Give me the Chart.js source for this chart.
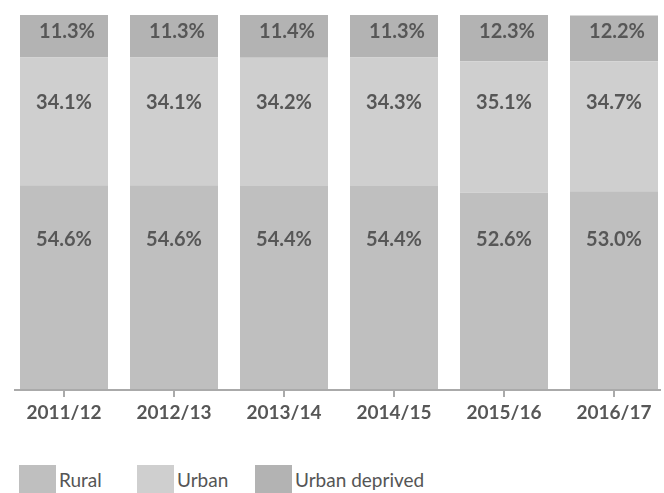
<!DOCTYPE html>
<html>
<head>
<meta charset="utf-8">
<script src="https://cdn.jsdelivr.net/npm/chart.js@4/dist/chart.umd.min.js"></script>
<style>
  html, body { margin: 0; padding: 0; background: #fff; overflow: hidden; width: 664px; height: 493px; }
  #wrap { position: absolute; left: 0; top: 0; width: 678px; height: 440px; }
  #legend { position: absolute; left: 19px; top: 465px; display: flex; font-family: Lato, "Open Sans", sans-serif; font-size: 19px; color: #555; white-space: nowrap; }
  .item { width: 118px; display: flex; align-items: center; height: 28px; flex: none; }
  .item:last-child { width: auto; }
  .box { width: 37px; height: 28px; margin-right: 3px; flex: none; }
</style>
</head>
<body>
<div id="wrap"><canvas id="c"></canvas></div>
<div id="legend"></div>
<script>
const categories = ["2011/12", "2012/13", "2013/14", "2014/15", "2015/16", "2016/17"];
const seriesNames = ["Rural", "Urban", "Urban deprived"];
const rural = [54.6, 54.6, 54.4, 54.4, 52.6, 53.0];
const urban = [34.1, 34.1, 34.2, 34.3, 35.1, 34.7];
const urbanDeprived = [11.3, 11.3, 11.4, 11.3, 12.3, 12.2];
const colors = ["#bfbfbf", "#cfcfcf", "#b3b3b3"];
const labelLevels = [40.1, 76.7, 95.5];
const labelShift = [0, 0, 3];

const valueLabels = {
  id: "valueLabels",
  afterDatasetsDraw(chart) {
    const ctx = chart.ctx;
    const y = chart.scales.y;
    ctx.save();
    ctx.font = "bold 20px Lato, 'Open Sans', sans-serif";
    ctx.fillStyle = "#575757";
    ctx.textAlign = "center";
    ctx.textBaseline = "middle";
    chart.data.datasets.forEach((ds, i) => {
      const meta = chart.getDatasetMeta(i);
      meta.data.forEach((bar, j) => {
        ctx.fillText(ds.data[j].toFixed(1) + "%", bar.x + labelShift[i], y.getPixelForValue(labelLevels[i]));
      });
    });
    ctx.restore();
  }
};

const axisLine = {
  id: "axisLine",
  afterDraw(chart) {
    const a = chart.chartArea;
    const ctx = chart.ctx;
    ctx.save();
    ctx.strokeStyle = "#aaaaaa";
    ctx.lineWidth = 2;
    ctx.beginPath();
    ctx.moveTo(a.left + 5, a.bottom);
    ctx.lineTo(a.right - 8, a.bottom);
    ctx.stroke();
    ctx.restore();
  }
};

const datasets = [rural, urban, urbanDeprived].map((d, i) => ({
  label: seriesNames[i],
  data: d,
  backgroundColor: colors[i],
  borderWidth: 0,
  barPercentage: 0.8,
  categoryPercentage: 1.0
}));

new Chart(document.getElementById("c"), {
  type: "bar",
  data: { labels: categories, datasets },
  options: {
    responsive: true,
    maintainAspectRatio: false,
    animation: false,
    layout: { padding: { left: 9, right: 9, top: 15, bottom: 0 } },
    plugins: { legend: { display: false }, tooltip: { enabled: false } },
    scales: {
      x: {
        stacked: true,
        offset: true,
        grid: { display: true, offset: false, drawOnChartArea: false, drawTicks: true, tickLength: 7, color: "#aaaaaa", lineWidth: 2 },
        border: { display: false },
        ticks: { color: "#575757", font: { family: "Lato, 'Open Sans', sans-serif", size: 19, weight: "bold" }, padding: 4 },
        afterFit(s) { s.height = 50; }
      },
      y: { stacked: true, display: false, min: 0, max: 100 }
    }
  },
  plugins: [valueLabels, axisLine]
});

const lg = document.getElementById("legend");
seriesNames.forEach((n, i) => {
  const it = document.createElement("div");
  it.className = "item";
  const b = document.createElement("div");
  b.className = "box";
  b.style.background = colors[i];
  const t = document.createElement("span");
  t.textContent = n;
  it.appendChild(b); it.appendChild(t);
  lg.appendChild(it);
});
</script>
</body>
</html>
